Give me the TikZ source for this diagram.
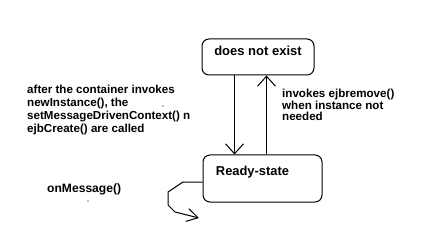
\documentclass[tikz,border=0pt]{standalone}
\usepackage{fontspec}
\setmainfont{Liberation Sans}
\usetikzlibrary{arrows.meta,calc}
\begin{document}
\begin{tikzpicture}[x=1pt,y=-1pt,
  box/.style={draw=black,line width=1pt,rounded corners=7pt,inner sep=0pt},
  lab/.style={inner sep=0pt,font=\bfseries},
  arr/.style={line width=1pt,-{Straight Barb[length=10pt,width=18pt,line width=1pt]}},
  loop/.style={line width=1pt,-{Straight Barb[length=11pt,width=13pt,line width=1pt]}}]
\useasboundingbox (0,0) rectangle (431,235);
\fill[white] (0,0) rectangle (431,235);
% boxes
\node[box,minimum width=112pt,minimum height=36pt] (top) at (258,57) {};
\node[box,minimum width=119pt,minimum height=47pt] (ready) at (262.5,178.5) {};
\node[lab,font=\fontsize{13}{15}\selectfont\bfseries] (toptxt) at (258,51) {does not exist};
\node[lab,font=\fontsize{12.9}{15}\selectfont\bfseries] (readytxt) at (252.5,172) {Ready-state};
% transitions
\draw[arr] ($(top.south west)+(33,0)$) -- ($(ready.north west)+(32,0)$);
\draw[arr] ($(ready.north west)+(64,0)$) -- ($(top.south west)+(65,0)$);
% self loop
\coordinate (l0) at ($(ready.west)+(0,3.5)$);
\coordinate (l1) at (183,182);
\coordinate (l2) at (168,192);
\coordinate (l3) at (168,205);
\coordinate (l4) at (175,212);
\coordinate (l5) at (199,218);
\draw[loop] (l0) -- (l1) -- (l2) -- (l3) -- (l4) -- (l5);
% labels
\node[lab,anchor=base west,align=left,font=\fontsize{11.6}{13.3}\selectfont\bfseries] (create) at (27,133)
  {after the container invokes\\newInstance(), the\\setMessageDrivenContext() n\\ejbCreate() are called};
\node[lab,anchor=base west,align=left,font=\fontsize{11.6}{11.8}\selectfont\bfseries] (remove) at (282,121)
  {invokes ejbremove()\\when instance not\\needed};
\node[lab,anchor=base west,font=\fontsize{12.1}{14}\selectfont\bfseries] (msg) at (47,193) {onMessage()};
% stray dots
\fill (163,106) circle (0.7pt);
\fill (88,201) circle (0.7pt);
\end{tikzpicture}
\end{document}
